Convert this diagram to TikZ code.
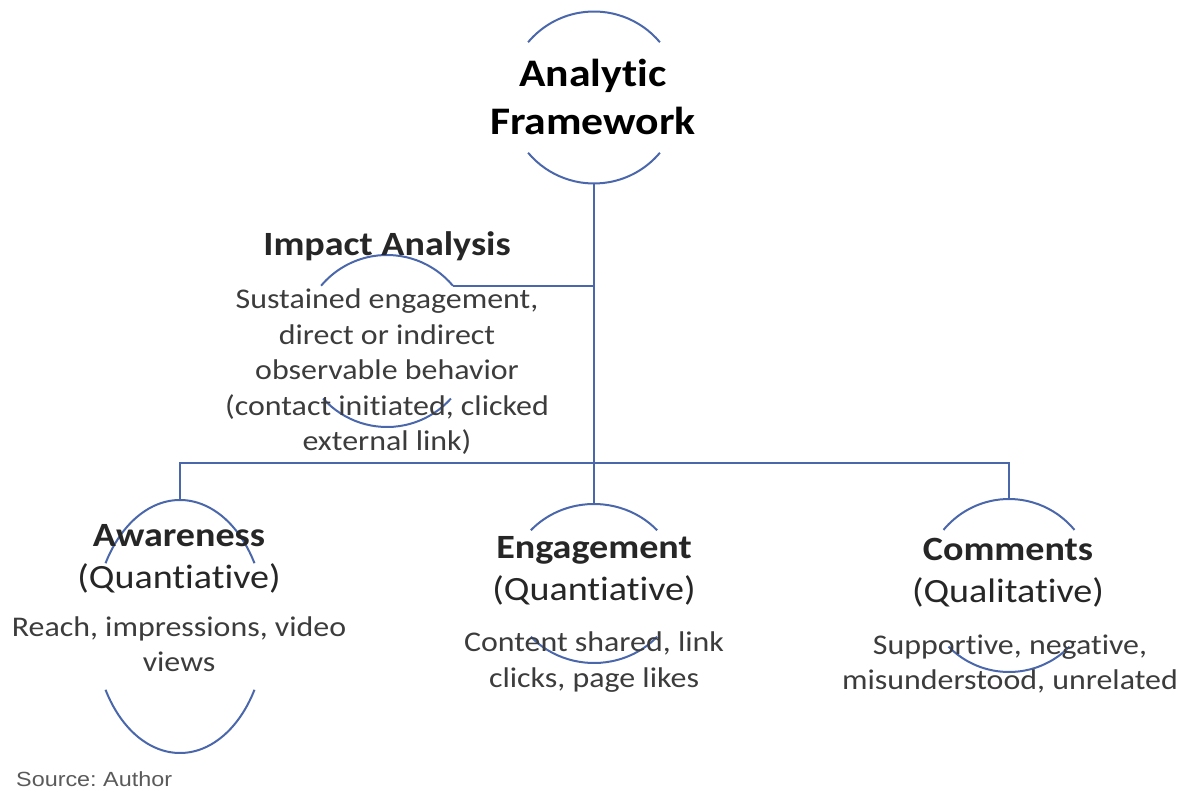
\documentclass[tikz,border=0pt]{standalone}
\usepackage{fontspec}
\setmainfont{Carlito}[FakeStretch=1.12,Ligatures=NoCommon]
\newfontfamily\srcfont{Liberation Sans}[FakeStretch=1.14]
\definecolor{arcblue}{HTML}{4A67AC}
\definecolor{bodygray}{HTML}{3C3C3C}
\definecolor{srcgray}{HTML}{5A5A5A}
\frenchspacing
\begin{document}
\begin{tikzpicture}[x=1pt,y=1pt,
  arcline/.style={draw=arcblue,line width=2pt},
  conn/.style={draw=arcblue,line width=2pt},
  titletext/.style={align=center,inner sep=0pt,text=black,font=\fontsize{39}{48}\selectfont\bfseries},
  headtext/.style={align=center,inner sep=0pt,text=black!85,font=\fontsize{34}{42}\selectfont},
  bodytext/.style={align=center,inner sep=0pt,text=bodygray,font=\fontsize{28.5}{35.5}\selectfont},
  srctext/.style={inner sep=0pt,anchor=west,text=srcgray,font=\srcfont\fontsize{20.5}{24}\selectfont}]
\useasboundingbox (0,0) rectangle (1189,-791);
% arc centres
\coordinate (cT) at (594,-97.5);
\coordinate (cI) at (387,-341);
\coordinate (cA) at (180,-626.5);
\coordinate (cE) at (594,-583.5);
\coordinate (cC) at (1009,-585.5);
% arcs
\draw[arcline] ([shift={(40:86)}]cT) arc[start angle=40,end angle=140,radius=86];
\draw[arcline] ([shift={(220:86)}]cT) arc[start angle=220,end angle=320,radius=86];
\draw[arcline] ([shift={(40:86)}]cI) arc[start angle=40,end angle=140,radius=86];
\draw[arcline] ([shift={(222:86)}]cI) arc[start angle=222,end angle=318,radius=86];
\draw[arcline] ([shift={(30:86 and 126.5)}]cA) arc[start angle=30,end angle=150,x radius=86,y radius=126.5];
\draw[arcline] ([shift={(210:86 and 126.5)}]cA) arc[start angle=210,end angle=330,x radius=86,y radius=126.5];
\draw[arcline] ([shift={(42:85 and 79.5)}]cE) arc[start angle=42,end angle=138,x radius=85,y radius=79.5];
\draw[arcline] ([shift={(222:85 and 79.5)}]cE) arc[start angle=222,end angle=318,x radius=85,y radius=79.5];
\draw[arcline] ([shift={(40:85.5 and 86.5)}]cC) arc[start angle=40,end angle=140,x radius=85.5,y radius=86.5];
\draw[arcline] ([shift={(225:85.5 and 86.5)}]cC) arc[start angle=225,end angle=315,x radius=85.5,y radius=86.5];
% connector points
\coordinate (tbot) at ([shift={(270:86)}]cT);
\coordinate (iend) at ([shift={(40:86)}]cI);
\coordinate (atop) at ([shift={(90:86 and 126.5)}]cA);
\coordinate (etop) at ([shift={(90:85 and 79.5)}]cE);
\coordinate (ctop) at ([shift={(90:85.5 and 86.5)}]cC);
\coordinate (bar) at (594,-463);
% connectors
\draw[conn] (tbot) -- (etop);
\draw[conn] (iend) -- (tbot |- iend);
\draw[conn] (atop) |- (bar) -| (ctop);
% texts
\node[titletext] (title) at (593,-97) {Analytic\\Framework};
\node[headtext,font=\fontsize{34}{42}\selectfont\bfseries] (ihead) at (387,-246) {Impact Analysis};
\node[bodytext] (ibody) at (387,-372) {Sustained engagement,\\direct or indirect\\observable behavior\\(contact initiated, clicked\\external link)};
\node[headtext] (ahead) at (179,-559) {{\bfseries Awareness}\\(Quantiative)};
\node[bodytext] (abody) at (179,-644) {Reach, impressions, video\\views};
\node[headtext] (ehead) at (594,-571) {{\bfseries Engagement}\\(Quantiative)};
\node[bodytext] (ebody) at (594,-662) {Content shared, link\\clicks, page likes};
\node[headtext] (chead) at (1008,-573) {{\bfseries Comments}\\(Qualitative)};
\node[bodytext] (cbody) at (1010,-664) {Supportive, negative,\\misunderstood, unrelated};
\node[srctext] (src) at (16,-779) {Source: Author};
\end{tikzpicture}
\end{document}
